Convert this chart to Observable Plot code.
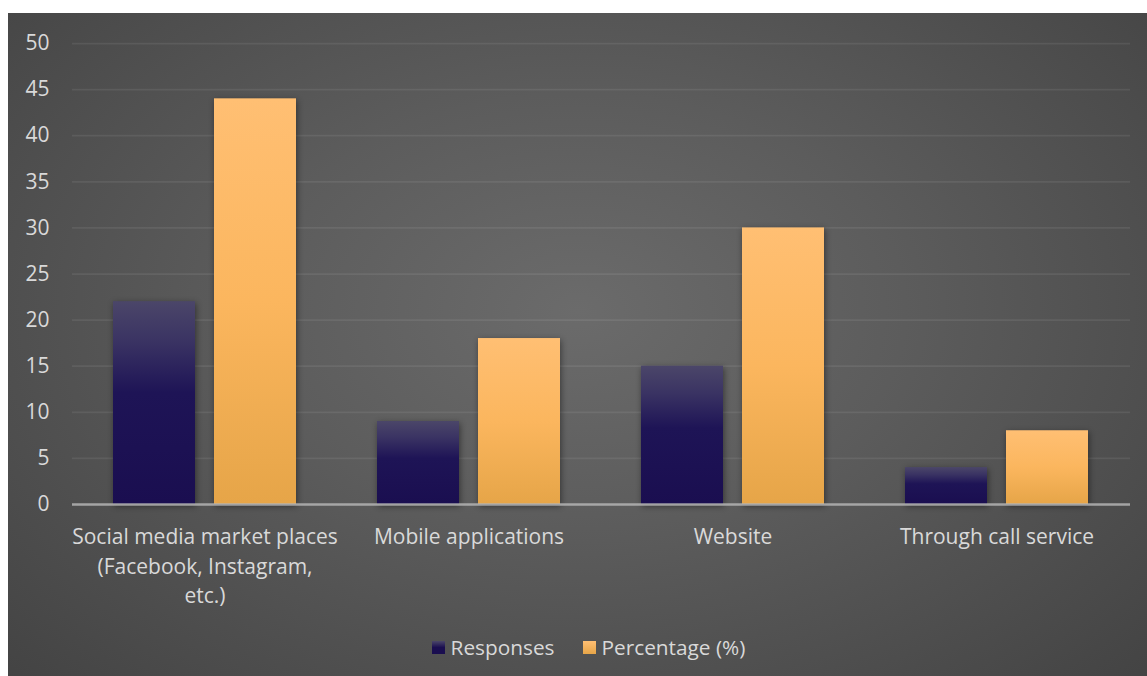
<!DOCTYPE html>
<html><head><meta charset="utf-8">
<script src="https://cdn.jsdelivr.net/npm/d3@7"></script>
<script src="https://cdn.jsdelivr.net/npm/@observablehq/plot@0.6"></script>
<style>
body{margin:0;background:#fff;}
#chart{position:absolute;left:8px;top:13px;width:1139px;height:663px;overflow:hidden;
  background:radial-gradient(ellipse 72% 82% at 50% 45%, #6b6b6b 0%, #5c5c5c 40%, #424242 100%);
  font-family:"Open Sans", Lato, sans-serif;}
#chart svg{position:absolute;left:0;top:0;overflow:visible;}
#legend{position:absolute;left:0;width:100%;top:620px;padding-left:22px;box-sizing:border-box;display:flex;justify-content:center;align-items:center;gap:28px;color:#d9d9d9;font-size:20.8px;}
#legend .item{display:flex;align-items:center;gap:6px;}
#legend .sw{width:13px;height:13px;display:inline-block;}
</style></head><body><div id="chart"><div id="legend"></div></div>
<script>
const categories = ["Social media market places (Facebook, Instagram, etc.)", "Mobile applications", "Website", "Through call service"];
const categoryLabels = ["Social media market places\n(Facebook, Instagram,\netc.)", "Mobile applications", "Website", "Through call service"];
const series = ["Responses", "Percentage (%)"];
const responses = [22, 9, 15, 4];
const percentages = [44, 18, 30, 8];
const yTicks = [0, 5, 10, 15, 20, 25, 30, 35, 40, 45, 50];

const respRows = categories.map((c, i) => ({category: c, series: series[0], value: responses[i]}));
const pctRows = categories.map((c, i) => ({category: c, series: series[1], value: percentages[i]}));
const labelOf = new Map(categories.map((c, i) => [c, categoryLabels[i]]));

const plot = Plot.plot({
  width: 1139, height: 615,
  marginLeft: 64, marginRight: 17, marginTop: 30, marginBottom: 124,
  style: {background: "transparent", color: "#d9d9d9", fontFamily: "'Open Sans', Lato, sans-serif", fontSize: "21px", overflow: "visible"},
  x: {domain: categories, paddingInner: 0.306, paddingOuter: 0.15, axis: null, label: null},
  y: {domain: [0, 50], axis: null, label: null},
  marks: [
    Plot.gridY(yTicks.filter(d => d > 0), {stroke: "#ffffff", strokeOpacity: 0.075, strokeWidth: 1.75}),
    Plot.axisY(yTicks, {tickSize: 0, tickPadding: 23, fill: "#d9d9d9", fontSize: 21, label: null}),
    Plot.barY(respRows, {x: "category", y: "value", fill: "url(#gResp)", insetRight: 101}),
    Plot.barY(pctRows, {x: "category", y: "value", fill: "url(#gPct)", insetLeft: 101}),
    Plot.ruleY([0], {stroke: "#b4b4b4", strokeOpacity: 0.85, strokeWidth: 2.5}),
    Plot.axisX(categories, {tickSize: 0, tickPadding: 0, tickFormat: d => labelOf.get(d), lineAnchor: "top", dy: 19, lineHeight: 1.4, fill: "#d9d9d9", fontSize: 21, label: null})
  ]
});

const ns = "http://www.w3.org/2000/svg";
const defs = document.createElementNS(ns, "defs");
defs.innerHTML = `
<linearGradient id="gResp" x1="0" y1="0" x2="0" y2="1">
  <stop offset="0%" stop-color="#4b4669"/>
  <stop offset="20%" stop-color="#3a3363"/>
  <stop offset="45%" stop-color="#1e1456"/>
  <stop offset="100%" stop-color="#1a0e50"/>
</linearGradient>
<linearGradient id="gPct" x1="0" y1="0" x2="0" y2="1">
  <stop offset="0%" stop-color="#ffbf73"/>
  <stop offset="50%" stop-color="#fbb65e"/>
  <stop offset="100%" stop-color="#e6a548"/>
</linearGradient>`;
plot.insertBefore(defs, plot.firstChild);
plot.querySelectorAll('g[aria-label="bar"]').forEach(g => g.style.filter = "drop-shadow(1px 2px 3px rgba(0,0,0,0.45))");

const chart = document.getElementById("chart");
chart.insertBefore(plot, chart.firstChild);

const legend = document.getElementById("legend");
const swatchBg = ["linear-gradient(#4b4669, #1a0e50 50%)", "linear-gradient(#ffbf73, #e6a548)"];
series.forEach((s, i) => {
  const item = document.createElement("span");
  item.className = "item";
  const sw = document.createElement("span");
  sw.className = "sw";
  sw.style.background = swatchBg[i];
  const t = document.createElement("span");
  t.textContent = s;
  item.appendChild(sw); item.appendChild(t);
  legend.appendChild(item);
});
</script></body></html>
